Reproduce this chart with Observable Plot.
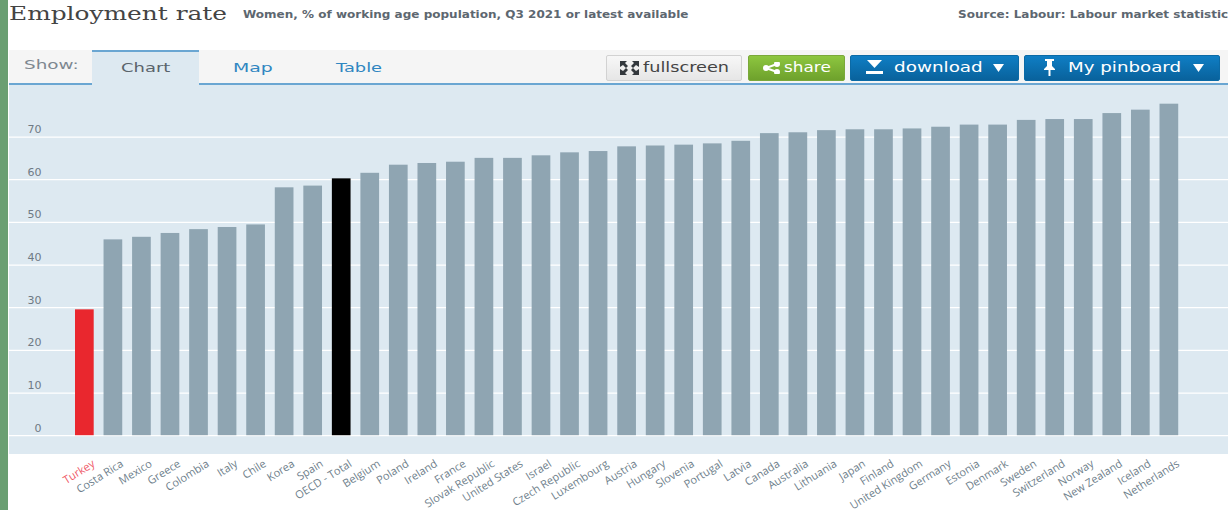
<!DOCTYPE html>
<html>
<head>
<meta charset="utf-8">
<script src="https://cdn.jsdelivr.net/npm/d3@7"></script>
<script src="https://cdn.jsdelivr.net/npm/@observablehq/plot@0.6"></script>
<style>
html,body{margin:0;padding:0;background:#fff;overflow:hidden}
#page{position:relative;width:1228px;height:510px;overflow:hidden;font-family:"DejaVu Sans",sans-serif}
#strip{position:absolute;left:0;top:0;width:8px;height:510px;background:#6a9f72}
#tabs{position:absolute;left:9px;top:50px;right:0;background:#f5f5f5;border-bottom:2px solid #6aa6d2;box-sizing:content-box;height:33px}
#panel{position:absolute;left:9px;top:85px;right:0;height:369px;background:#dde9f1}
#tab{position:absolute;left:92px;top:50px;width:107px;height:36px;background:#dde9f1;border-top:2px solid #6aa6d2;box-sizing:border-box}
#chart{position:absolute;left:0;top:0}
.t{position:absolute;white-space:nowrap;transform-origin:left center;line-height:1}
.b{position:absolute;top:55px;height:26px;box-sizing:border-box;border-radius:2px;border:1px solid #d2d2d2}
.ic{position:absolute}
</style>
</head>
<body>
<div id="page">
  <div id="strip"></div>
  <div id="tabs"></div>
  <div id="panel"></div>
  <div id="tab"></div>
  <div id="holder"></div>
  <div class="t" id="title" style="left:9px;top:5px;font-family:'DejaVu Serif',serif;font-size:18px;color:#444;transform:scaleX(1.38)">Employment rate</div>
  <div class="t" id="sub" style="left:243px;top:9px;font-size:10.5px;font-weight:bold;color:#5d6770;transform:scaleX(1.144)">Women, % of working age population, Q3 2021 or latest available</div>
  <div class="t" id="src" style="left:958px;top:9px;font-size:10.5px;font-weight:bold;color:#5d6770;transform:scaleX(1.144)">Source: Labour: Labour market statistics</div>
  <div class="t" style="left:24px;top:58px;font-size:13px;color:#7d8790;transform:scaleX(1.41)">Show:</div>
  <div class="t" style="left:121px;top:61px;font-size:13px;color:#59636b;transform:scaleX(1.38)">Chart</div>
  <div class="t" style="left:233px;top:61px;font-size:13px;color:#2f86c1;transform:scaleX(1.45)">Map</div>
  <div class="t" style="left:336px;top:61px;font-size:13px;color:#2f86c1;transform:scaleX(1.37)">Table</div>

  <div class="b" style="left:606px;width:136px;background:linear-gradient(#f7f7f7,#e6e6e6)"></div>
  <svg class="ic" style="left:620px;top:61px" width="19" height="14" viewBox="0 0 19 14" fill="#33383d"><path d="M0 0h7l-2 2 3 3-2 2-3-3-3 2zM19 0h-7l2 2-3 3 2 2 3-3 3 2zM0 14h7l-2-2 3-3-2-2-3 3-3-2zM19 14h-7l2-2-3-3 2-2 3 3 3-2z"/></svg>
  <div class="t" style="left:643px;top:61px;font-size:13.5px;color:#444;transform:scaleX(1.31)">fullscreen</div>

  <div class="b" style="left:748px;width:97px;background:linear-gradient(#8dc63f,#6ea12c);border-color:#7aa83a"></div>
  <svg class="ic" style="left:763px;top:62px" width="17" height="12" viewBox="0 0 17 12" fill="none" stroke="#fff" stroke-width="2"><path d="M14 2 3 6l11 4"/><circle cx="14" cy="2" r="2" fill="#fff"/><circle cx="3" cy="6" r="2" fill="#fff"/><circle cx="14" cy="10" r="2" fill="#fff"/></svg>
  <div class="t" style="left:784px;top:61px;font-size:13.5px;color:#fff;transform:scaleX(1.25)">share</div>

  <div class="b" style="left:850px;width:169px;background:linear-gradient(#0f7ec4,#09629c);border-color:#0b6aa6"></div>
  <svg class="ic" style="left:866px;top:60px" width="17" height="14" viewBox="0 0 17 14" fill="#fff"><path d="M1 0h15L8.500 8zM0 11h17v3H0z"/></svg>
  <div class="t" style="left:894px;top:61px;font-size:13.5px;color:#fff;transform:scaleX(1.36)">download</div>
  <svg class="ic" style="left:993px;top:64px" width="11" height="8" viewBox="0 0 11 8" fill="#fff"><path d="M0 0h11L5.500 8z"/></svg>

  <div class="b" style="left:1024px;width:196px;background:linear-gradient(#0f7ec4,#09629c);border-color:#0b6aa6"></div>
  <svg class="ic" style="left:1043px;top:59px" width="13" height="17" viewBox="0 0 13 17" fill="#fff"><path d="M2 0h9v2H9v5l3 3v1H7.500v6h-2v-6H1v-1l3-3V2H2z"/></svg>
  <div class="t" style="left:1068px;top:61px;font-size:13.5px;color:#fff;transform:scaleX(1.35)">My pinboard</div>
  <svg class="ic" style="left:1193px;top:64px" width="11" height="8" viewBox="0 0 11 8" fill="#fff"><path d="M0 0h11L5.500 8z"/></svg>
</div>
<script>
const countries = ["Turkey","Costa Rica","Mexico","Greece","Colombia","Italy","Chile","Korea","Spain","OECD - Total","Belgium","Poland","Ireland","France","Slovak Republic","United States","Israel","Czech Republic","Luxembourg","Austria","Hungary","Slovenia","Portugal","Latvia","Canada","Australia","Lithuania","Japan","Finland","United Kingdom","Germany","Estonia","Denmark","Sweden","Switzerland","Norway","New Zealand","Iceland","Netherlands"];
const rates = [29.5,45.9,46.5,47.4,48.3,48.8,49.4,58.1,58.5,60.2,61.5,63.4,63.8,64.1,65.0,65.0,65.6,66.3,66.6,67.7,67.9,68.1,68.4,69.0,70.8,71.0,71.5,71.7,71.7,71.9,72.3,72.8,72.8,73.9,74.1,74.1,75.5,76.3,77.7];
const yTicks = [0,10,20,30,40,50,60,70];
const barColors = {"Turkey":"#e9272e","OECD - Total":"#000000"};
const labelColors = {"Turkey":"#ef5a68"};
const table = countries.map((c,i)=>({country:c,rate:rates[i]}));

const chart = Plot.plot({
  width:1228,height:510,
  marginTop:85,marginBottom:74.8,marginLeft:41,marginRight:0,
  style:{background:"transparent",overflow:"visible"},
  x:{domain:countries,range:[70.08,1183.14],paddingInner:0.345,paddingOuter:0.1725,round:false,axis:null},
  y:{domain:[0,82.08],range:[435.2,85]},
  marks:[
    Plot.ruleY(yTicks,{stroke:"#ffffff",strokeWidth:1.2,insetLeft:-32}),
    Plot.barY(table,{x:"country",y:"rate",fill:d=>barColors[d.country]||"#8fa5b2"}),
    Plot.axisY({ticks:yTicks,tickSize:0,tickPadding:0,dy:-7.5,label:null,fontSize:11,fontFamily:"DejaVu Sans",color:"#6f7a84"}),
    Plot.text(table,{x:"country",y:()=>0,text:"country",rotate:-32,textAnchor:"end",lineAnchor:"middle",dx:9,dy:27,fontSize:11,fontFamily:"Open Sans",fill:d=>labelColors[d.country]||"#6f7f8c"})
  ]
});
chart.id="chart";
document.getElementById("holder").appendChild(chart);
</script>
</body>
</html>
